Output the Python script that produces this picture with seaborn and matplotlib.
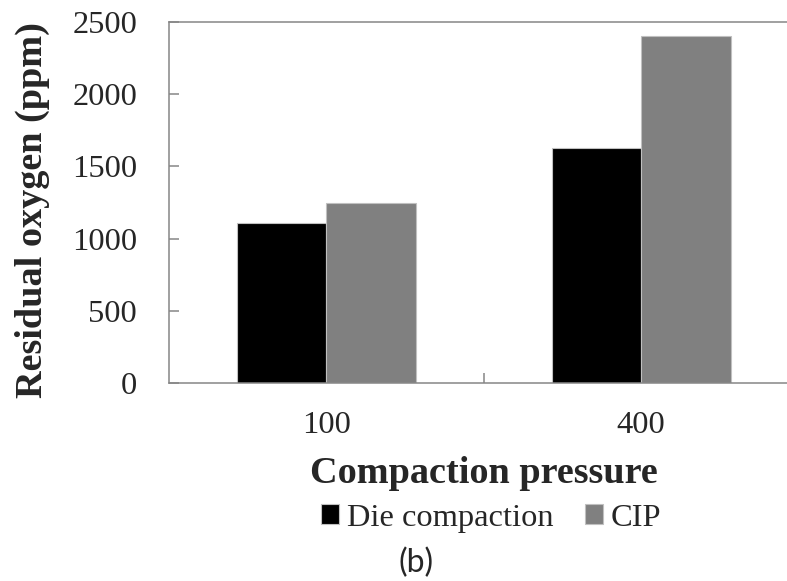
import pandas as pd
import matplotlib
matplotlib.use("Agg")
import matplotlib.pyplot as plt
import seaborn as sns

# values
pressure = ["100", "400"]
die_compaction = [1110, 1625]
cip = [1250, 2400]
series_names = ["Die compaction", "CIP"]
y_ticks = [0, 500, 1000, 1500, 2000, 2500]

df = pd.DataFrame({
    "Compaction pressure": pressure * 2,
    "Residual oxygen": die_compaction + cip,
    "Method": [series_names[0]] * 2 + [series_names[1]] * 2,
})

sns.set_style("white")
plt.rcParams["font.family"] = ["Liberation Serif", "DejaVu Serif"]

axis_grey = "#868686"

fig = plt.figure(figsize=(7.87, 5.81), dpi=100)
ax = fig.add_axes([0.2147, 0.3408, 0.7999, 0.6213])

sns.barplot(data=df, x="Compaction pressure", y="Residual oxygen", hue="Method",
            palette=["#000000", "#808080"], width=0.568, gap=0,
            edgecolor="#c0c0c0", linewidth=0.8, ax=ax)

ax.set_xlim(-0.5, 1.5)
ax.set_ylim(0, 2500)
ax.set_yticks(y_ticks)
ax.set_xticks([0, 1], pressure)
ax.set_xticks([0.5], minor=True)

for side in ["left", "bottom", "top"]:
    ax.spines[side].set_color(axis_grey)
    ax.spines[side].set_linewidth(1.1)
ax.spines["right"].set_visible(False)

ax.tick_params(axis="y", left=True, direction="in", length=7.2, width=1.1,
               color=axis_grey, labelsize=23.4, pad=23)
ax.tick_params(axis="x", which="major", bottom=True, length=0, labelsize=23.4, pad=20)
ax.tick_params(axis="x", which="minor", bottom=True, direction="in", length=7.2,
               width=1.1, color=axis_grey)

ax.set_xlabel("Compaction pressure", fontsize=27.5, fontweight="bold")
ax.xaxis.label.set_va("baseline")
ax.xaxis.set_label_coords(0.5, (383 - 483) / 361)

ax.set_ylabel("Residual oxygen (ppm)", fontsize=27.5, fontweight="bold")
ax.yaxis.label.set(rotation_mode="anchor", va="baseline", ha="center")
ax.yaxis.set_label_coords((42 - 169) / 629.5, (383 - 210) / 361)

handles, labels = ax.get_legend_handles_labels()
ax.legend_.remove()
fig.legend(handles, labels, loc="center", bbox_to_anchor=(0.624, 0.1084), ncol=2,
           frameon=False, fontsize=23.4, handlelength=0.55, handleheight=0.55,
           handletextpad=0.25, columnspacing=0.98, borderpad=0, borderaxespad=0)

fig.text(0.5286, 0.0155, "(b)", family=["Lato", "DejaVu Sans"], fontsize=23,
         ha="center", va="baseline")

fig.savefig("out.png", dpi=100)
